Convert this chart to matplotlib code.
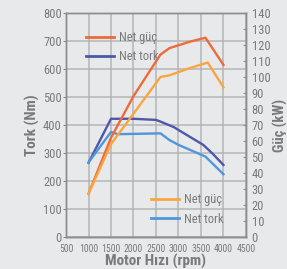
import matplotlib
matplotlib.use('Agg')
import matplotlib.pyplot as plt
from matplotlib import font_manager
from matplotlib.lines import Line2D

# pick a narrow family if one is around
names = {f.name for f in font_manager.fontManager.ttflist}
narrow = None
for cand in ['Liberation Sans Narrow', 'DejaVu Sans Condensed', 'Roboto Condensed',
             'Open Sans Condensed', 'Liberation Sans']:
    if cand in names:
        narrow = cand
        break
plt.rcParams['font.family'] = [narrow, 'DejaVu Sans'] if narrow else ['DejaVu Sans']

# red "Net güç" (kW, right axis)
guc1_rpm = [1000, 1500, 2000, 2600, 2800, 3250, 3600, 4000]
guc1_kw = [27, 62, 88, 114, 118, 122, 124.5, 107.5]
# orange "Net güç" (kW, right axis)
guc2_rpm = [1000, 1500, 2000, 2600, 2800, 3250, 3650, 4000]
guc2_kw = [27, 58, 77, 100, 101, 105.5, 109, 93.5]
# dark blue "Net tork" (Nm, left axis)
tork1_rpm = [1000, 1500, 2000, 2500, 2600, 2900, 3000, 3550, 3750, 4000]
tork1_nm = [265, 422, 422, 418, 412, 392, 382, 329, 299, 257]
# light blue "Net tork" (Nm, left axis)
tork2_rpm = [1000, 1500, 1650, 2600, 2800, 3000, 3600, 4000]
tork2_nm = [266, 375, 367, 370, 346, 329, 287, 224]

bg = '#e8e9eb'
grey = '#7a7a7a'
red = '#ee6a3a'
dblue = '#4e58a8'
orange = '#f9a640'
lblue = '#4f97dc'

fig = plt.figure(figsize=(2.87, 2.69), dpi=100, facecolor=bg)
ax = fig.add_axes([0.23, 0.119, 0.627, 0.833])
ax.set_facecolor(bg)
ax2 = ax.twinx()

ax.set_xlim(500, 4500)
ax.set_ylim(0, 800)
ax2.set_ylim(0, 140)
ax.set_xticks(range(500, 4501, 500))
ax.set_yticks(range(0, 801, 100))
ax2.set_yticks(range(0, 141, 10))
ax.grid(True, color='#b4b5b8', linewidth=1.1)
ax.set_axisbelow(True)

ax.plot(tork1_rpm, tork1_nm, color=dblue, lw=1.7, solid_joinstyle='round')
ax.plot(tork2_rpm, tork2_nm, color=lblue, lw=1.7, solid_joinstyle='round')
ax2.plot(guc1_rpm, guc1_kw, color=red, lw=1.7, solid_joinstyle='round')
ax2.plot(guc2_rpm, guc2_kw, color=orange, lw=1.7, solid_joinstyle='round')

for a in (ax, ax2):
    for s in a.spines.values():
        s.set_color('#8c8c8c')
        s.set_linewidth(1.0)
ax.spines['bottom'].set_color('#6e6e6e')

ax.tick_params(axis='y', labelsize=9, colors='#8c8c8c', labelcolor=grey,
               length=2, width=0.8, pad=1)
ax.tick_params(axis='x', labelsize=7, colors='#8c8c8c', labelcolor=grey,
               length=0, pad=5)
ax2.tick_params(axis='y', labelsize=9, colors='#8c8c8c', labelcolor=grey,
                length=2, width=0.8, direction='in', pad=4)

ax.set_ylabel('Tork (Nm)', fontsize=11, fontweight='bold', color=grey, labelpad=2)
ax2.set_ylabel('Güç (kW)', fontsize=10.5, fontweight='bold', color=grey, labelpad=2)
ax.set_xlabel('Motor Hızı (rpm)', fontsize=11, fontweight='bold', color=grey, labelpad=0)

h1 = [Line2D([], [], color=red, lw=2), Line2D([], [], color=dblue, lw=2)]
h2 = [Line2D([], [], color=orange, lw=2), Line2D([], [], color=lblue, lw=2)]
leg1 = ax.legend(h1, ['Net güç', 'Net tork'], loc='upper left', bbox_to_anchor=(0.05, 0.97),
                 frameon=False, fontsize=9, labelcolor=grey, handlelength=2.2,
                 handletextpad=0.4, labelspacing=0.5)
ax.add_artist(leg1)
ax.legend(h2, ['Net güç', 'Net tork'], loc='lower left', bbox_to_anchor=(0.41, 0.0),
          frameon=False, fontsize=9, labelcolor=grey, handlelength=2.2,
          handletextpad=0.4, labelspacing=0.5)

fig.savefig('out.png', dpi=100, facecolor=bg)
